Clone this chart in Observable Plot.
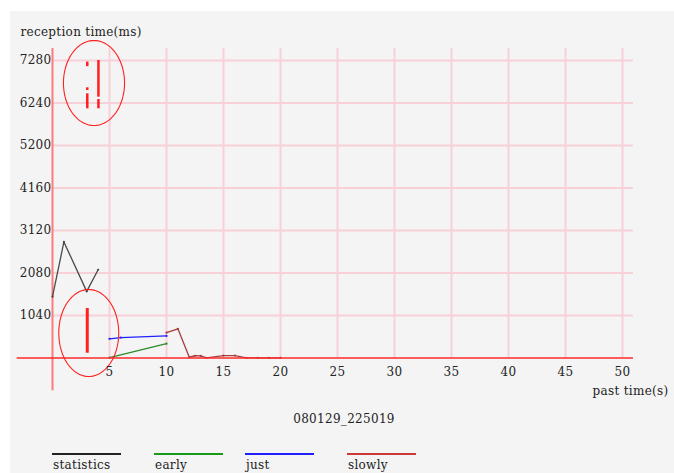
<!DOCTYPE html>
<html>
<head>
<meta charset="utf-8">
<script src="https://cdn.jsdelivr.net/npm/d3@7"></script>
<script src="https://cdn.jsdelivr.net/npm/@observablehq/plot@0.6"></script>
<style>
  html, body { margin: 0; padding: 0; background: #ffffff; width: 674px; height: 473px; overflow: hidden; }
  #bg { position: absolute; left: 10px; top: 11px; width: 664px; height: 462px; background: #f4f4f4; }
  #chart { position: absolute; left: 0; top: 0; }
  .txt { position: absolute; font-family: "DejaVu Serif", serif; font-size: 12px; line-height: 13px; letter-spacing: 0.3px; color: #222; white-space: nowrap; }
  .leg { position: absolute; height: 2px; }
</style>
</head>
<body>
<div id="bg"></div>
<div id="chart"></div>
<div class="txt" id="caption" style="left:0;width:688px;text-align:center;top:413px;">080129_225019</div>
<div id="legend"></div>
<script>
// ---- data ----
const xTicks = [5, 10, 15, 20, 25, 30, 35, 40, 45, 50];
const yTicks = [1040, 2080, 3120, 4160, 5200, 6240, 7280];

const seriesNames = ["statistics", "early", "just", "slowly"];
const seriesColors = ["#4a4a4a", "#2a8a2a", "#2020ff", "#a83c3c"];
const legendColors = ["#222222", "#1a9a1a", "#2020ff", "#cc3838"];

const statisticsX = [0, 1, 3, 4];
const statisticsY = [1500, 2840, 1630, 2160];
const earlyX = [5, 10];
const earlyY = [10, 350];
const justX = [5, 6, 10];
const justY = [470, 500, 540];
const slowlyX = [10, 11, 12, 12.5, 13, 13.5, 15, 16, 17, 18, 19, 20];
const slowlyY = [620, 714, 20, 55, 50, 5, 60, 60, 5, 5, 5, 5];

// hand-drawn red annotations
const ellipseCX = [3.64, 3.18];
const ellipseCY = [6729, 612];
const ellipseRX = [2.68, 2.63];
const ellipseRY = [1040, 1064];
const strokeX  = [3.05, 3.05, 3.05, 4.03, 4.03, 3.05];
const strokeY1 = [7240, 6612, 6465, 7280, 6326, 1211];
const strokeY2 = [7130, 6546, 6098, 6382, 6098, 117];
const strokeW  = [2.5, 2.5, 2.5, 2.5, 2.5, 3];

// ---- layout extents (data units) ----
const xAxisLeft = -3.1, xAxisRight = 50.96;
const yAxisBottom = -800, yAxisTop = 7575;

const xs = [statisticsX, earlyX, justX, slowlyX];
const ys = [statisticsY, earlyY, justY, slowlyY];
const rows = [];
seriesNames.forEach((name, i) => xs[i].forEach((x, j) => rows.push({series: name, x, y: ys[i][j]})));

const ellipsePts = [];
ellipseCX.forEach((cx, k) => {
  for (let a = 0; a <= 96; a++) {
    const t = a / 96 * 2 * Math.PI;
    ellipsePts.push({k, x: cx + ellipseRX[k] * Math.cos(t), y: ellipseCY[k] + ellipseRY[k] * Math.sin(t)});
  }
});
const strokes = strokeX.map((x, i) => ({x, y1: strokeY1[i], y2: strokeY2[i], w: strokeW[i]}));

const grid = "#f8d0d7";
const chart = Plot.plot({
  width: 674,
  height: 400,
  marginLeft: 52,
  marginRight: 52,
  marginTop: 60,
  marginBottom: 42.5,
  style: {fontFamily: "DejaVu Serif, serif", fontSize: "12px", background: "transparent", color: "#222", letterSpacing: "0.3px"},
  x: {domain: [0, 50]},
  y: {domain: [0, 7280]},
  color: {domain: seriesNames, range: seriesColors},
  marks: [
    Plot.ruleX(xTicks, {y1: 0, y2: yAxisTop, stroke: grid, strokeWidth: 2}),
    Plot.ruleY(yTicks, {x1: 0, x2: xAxisRight, stroke: grid, strokeWidth: 2}),
    Plot.ruleX([0], {y1: yAxisBottom, y2: yAxisTop, stroke: "#ff7a7a", strokeWidth: 2}),
    Plot.line(rows, {x: "x", y: "y", z: "series", stroke: "series", strokeWidth: 1.3}),
    Plot.dot(rows, {x: "x", y: "y", fill: "series", r: 1.1}),
    Plot.ruleY([0], {x1: xAxisLeft, x2: xAxisRight, stroke: "#ff2a2a", strokeWidth: 1.5}),
    Plot.line(ellipsePts, {x: "x", y: "y", z: "k", stroke: "#ff2020", strokeWidth: 1.1}),
    Plot.ruleX(strokes, {x: "x", y1: "y1", y2: "y2", stroke: "#ff2020", strokeWidth: "w"}),
    Plot.axisX({ticks: xTicks, tickSize: 0, tickPadding: 9, label: null, fill: "#222"}),
    Plot.axisY({ticks: yTicks, tickSize: 0, tickPadding: 1, label: null, fill: "#222", tickFormat: d => String(d)}),
    Plot.text(["reception time(ms)"], {frameAnchor: "top-left", dx: -32, dy: -33, textAnchor: "start", fill: "#222"}),
    Plot.text(["past time(s)"], {frameAnchor: "bottom-right", dx: 46, dy: 37, textAnchor: "end", fill: "#222"})
  ]
});
document.getElementById("chart").appendChild(chart);

// legend
const legendLeft = [52, 154, 245, 347];
const legend = document.getElementById("legend");
seriesNames.forEach((name, i) => {
  const ln = document.createElement("div");
  ln.className = "leg";
  ln.style.left = legendLeft[i] + "px";
  ln.style.top = "453px";
  ln.style.width = "69px";
  ln.style.background = legendColors[i];
  legend.appendChild(ln);
  const t = document.createElement("div");
  t.className = "txt";
  t.style.left = (legendLeft[i] + 1) + "px";
  t.style.top = "459px";
  t.textContent = name;
  legend.appendChild(t);
});
</script>
</body>
</html>
